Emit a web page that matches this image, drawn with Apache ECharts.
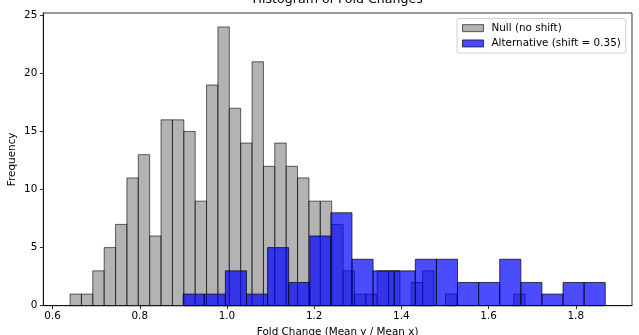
<!DOCTYPE html>
<html>
<head>
<meta charset="utf-8">
<script src="https://cdn.jsdelivr.net/npm/echarts@6/dist/echarts.min.js"></script>
<style>
  html, body { margin: 0; padding: 0; background: #fff; }
  #chart { width: 639px; height: 335px; }
</style>
</head>
<body>
<div id="chart"></div>
<script>
// Histogram counts per bin
const nullCounts = [1, 1, 3, 5, 7, 11, 13, 6, 16, 16, 15, 9, 19, 24, 17, 14, 21, 12, 14, 12,
                    11, 9, 9, 7, 3, 1, 1, 3, 3, 0, 2, 3, 0, 1, 0, 0, 0, 0, 0, 1];
const nullBinRange = [0.6401, 1.6837];
const altCounts = [1, 1, 3, 1, 5, 2, 6, 8, 4, 3, 3, 4, 4, 2, 2, 4, 2, 1, 2, 2];
const altBinRange = [0.8995, 1.8676];

const xTicks = [0.6, 0.8, 1.0, 1.2, 1.4, 1.6, 1.8];
const yTicks = [0, 5, 10, 15, 20, 25];

const seriesNames = ['Null (no shift)', 'Alternative (shift = 0.35)'];

// Turn counts plus bin range into [left edge, right edge, count] rows
function binRows(counts, range) {
  const w = (range[1] - range[0]) / counts.length;
  return counts.map((c, i) => [range[0] + i * w, range[0] + (i + 1) * w, c]);
}

// Plot limits with 5% padding around the data
const dataMin = Math.min(nullBinRange[0], altBinRange[0]);
const dataMax = Math.max(nullBinRange[1], altBinRange[1]);
const pad = 0.05 * (dataMax - dataMin);
const yMax = Math.max(...nullCounts, ...altCounts) * 1.05;

const FONT = 'DejaVu Sans';

function histRenderer(fill, stroke) {
  return function (params, api) {
    const c = api.value(2);
    if (c <= 0) return null;
    const p0 = api.coord([api.value(0), c]);
    const p1 = api.coord([api.value(1), 0]);
    return {
      type: 'rect',
      shape: { x: p0[0], y: p0[1], width: p1[0] - p0[0], height: p1[1] - p0[1] },
      style: { fill: fill, stroke: stroke, lineWidth: 1 }
    };
  };
}

const grayFill = 'rgba(128,128,128,0.6)';
const grayEdge = 'rgba(0,0,0,0.6)';
const blueFill = 'rgba(0,0,255,0.7)';
const blueEdge = 'rgba(0,0,0,0.7)';

const chart = echarts.init(document.getElementById('chart'), null, { renderer: 'canvas' });

chart.setOption({
  animation: false,
  backgroundColor: '#fff',
  title: {
    text: 'Histogram of Fold Changes',
    left: 337.7,
    textAlign: 'center',
    top: -6.5,
    padding: 0,
    textStyle: { fontFamily: FONT, fontSize: 12.6, fontWeight: 'normal', color: '#000' }
  },
  legend: {
    orient: 'vertical',
    left: 457,
    top: 18.5,
    padding: [4, 5, 4, 5],
    itemGap: 4,
    itemWidth: 21,
    itemHeight: 7,
    backgroundColor: 'rgba(255,255,255,0.8)',
    borderColor: '#d0d0d0',
    borderWidth: 1,
    borderRadius: 2,
    textStyle: { fontFamily: FONT, fontSize: 10.4, color: '#000', lineHeight: 11.3, padding: [0, 0, 0, 3] },
    data: [
      { name: seriesNames[0], icon: 'rect', itemStyle: { color: grayFill, borderColor: grayEdge, borderWidth: 1 } },
      { name: seriesNames[1], icon: 'rect', itemStyle: { color: blueFill, borderColor: blueEdge, borderWidth: 1 } }
    ]
  },
  grid: {
    left: 43.3,
    right: 7,
    top: 13,
    bottom: 29.3,
    outerBoundsMode: 'none',
    containLabel: false,
    show: true,
    borderColor: '#000',
    borderWidth: 0.8,
    backgroundColor: 'transparent'
  },
  xAxis: {
    type: 'value',
    min: dataMin - pad,
    max: dataMax + pad,
    name: 'Fold Change (Mean y / Mean x)',
    nameLocation: 'middle',
    nameGap: 22,
    nameMoveOverlap: false,
    nameTextStyle: { fontFamily: FONT, fontSize: 10.4, color: '#000' },
    axisLine: { show: true, onZero: false, lineStyle: { color: '#000', width: 0.8 } },
    axisTick: { show: true, length: 3.4, lineStyle: { color: '#000', width: 0.8 }, customValues: xTicks },
    axisLabel: {
      fontFamily: FONT, fontSize: 10.4, color: '#000', margin: 6,
      customValues: xTicks,
      formatter: v => v.toFixed(1)
    },
    splitLine: { show: false }
  },
  yAxis: {
    type: 'value',
    min: 0,
    max: yMax,
    name: 'Frequency',
    nameLocation: 'middle',
    nameGap: 26,
    nameMoveOverlap: false,
    nameRotate: 90,
    nameTextStyle: { fontFamily: FONT, fontSize: 10.4, color: '#000' },
    axisLine: { show: true, lineStyle: { color: '#000', width: 0.8 } },
    axisTick: { show: true, length: 3.4, lineStyle: { color: '#000', width: 0.8 }, customValues: yTicks },
    axisLabel: {
      fontFamily: FONT, fontSize: 10.4, color: '#000', margin: 6,
      customValues: yTicks,
      formatter: v => String(v)
    },
    splitLine: { show: false }
  },
  series: [
    {
      name: seriesNames[0],
      type: 'custom',
      renderItem: histRenderer(grayFill, grayEdge),
      itemStyle: { color: grayFill, borderColor: grayEdge },
      encode: { x: [0, 1], y: 2 },
      data: binRows(nullCounts, nullBinRange),
      z: 2
    },
    {
      name: seriesNames[1],
      type: 'custom',
      renderItem: histRenderer(blueFill, blueEdge),
      itemStyle: { color: blueFill, borderColor: blueEdge },
      encode: { x: [0, 1], y: 2 },
      data: binRows(altCounts, altBinRange),
      z: 3
    }
  ]
});
</script>
</body>
</html>
